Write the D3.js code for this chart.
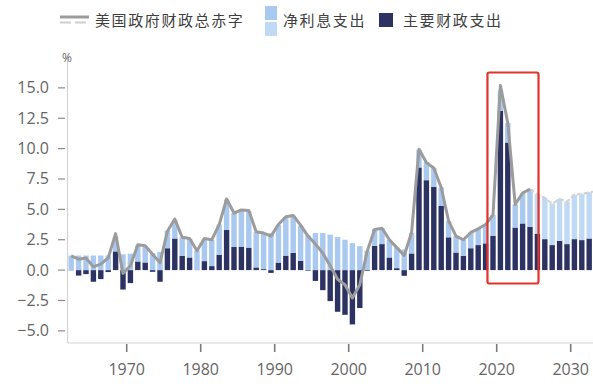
<!DOCTYPE html>
<html>
<head>
  <meta charset="utf-8">
  <script src="https://d3js.org/d3.v7.min.js"></script>
  <style>
    body{ margin:0; background:#fff; }
    .tick-label{ font-family:"Open Sans", "Noto Sans", sans-serif; font-size:16px; fill:#666; }
    .legend-text{ font-family:"Noto Sans CJK SC", sans-serif; font-size:15px; fill:#404040; letter-spacing:1.6px; }
  </style>
</head>
<body>
  <svg width='593' height='386' id='chart'></svg>
  <script>
    //data, % of GDP
    var years = d3.range(1962, 2035);

    var primary = [
      -0.02, -0.45, -0.33, -0.96, -0.74, -0.16, 1.54, -1.6, -1.07, 0.71,
      0.63, -0.14, -0.96, 1.8, 2.6, 1.18, 1.04, 0.03, 0.74, 0.33,
      1.26, 3.3, 1.9, 1.93, 1.85, 0.22, 0.08, -0.23, 0.62, 1.19,
      1.42, 0.77, -0.05, -0.89, -1.65, -2.55, -3.43, -3.68, -4.47, -3.12,
      -0.06, 2.0, 2.14, 1.04, 0.16, -0.47, 1.37, 8.45, 7.4, 6.86,
      5.3, 2.7, 1.45, 1.18, 1.8, 2.06, 2.2, 2.83, 13.1, 10.5,
      3.5, 3.84, 3.57, 3.0, 2.55, 2.06, 2.41, 2.14, 2.55, 2.47,
      2.6, 2.6, 2.7
    ];

    var interest = [
      1.2, 1.2, 1.2, 1.2, 1.2, 1.2, 1.25, 1.3, 1.35, 1.3,
      1.3, 1.4, 1.5, 1.45, 1.5, 1.5, 1.55, 1.6, 1.85, 2.15,
      2.5, 2.5, 2.8, 3.0, 3.0, 2.9, 2.95, 3.05, 3.1, 3.2,
      3.05, 2.9, 2.85, 3.05, 3.05, 2.92, 2.72, 2.5, 2.22, 1.97,
      1.6, 1.4, 1.3, 1.45, 1.7, 1.7, 1.7, 1.45, 1.5, 1.55,
      1.5, 1.35, 1.35, 1.3, 1.3, 1.35, 1.55, 1.7, 1.7, 1.6,
      1.9, 2.5, 3.1, 3.25, 3.4, 3.4, 3.45, 3.5, 3.65, 3.8,
      3.8, 3.9, 4.0
    ];

    //total deficit line, actual through 2024
    var totalYears = d3.range(1962, 2025);
    var total = [
      1.18, 0.9, 0.99, 0.27, 0.49, 1.0, 3.0, -0.27, 0.36, 2.08,
      2.0, 1.3, 0.6, 3.2, 4.2, 2.7, 2.6, 1.6, 2.6, 2.5,
      3.75, 5.85, 4.7, 4.95, 4.9, 3.15, 3.05, 2.8, 3.75, 4.4,
      4.5, 3.7, 2.8, 2.15, 1.4, 0.35, -0.75, -1.2, -2.3, -1.2,
      1.55, 3.35, 3.45, 2.5, 1.85, 1.2, 3.1, 9.95, 8.85, 8.4,
      6.8, 4.05, 2.8, 2.5, 3.1, 3.4, 3.75, 4.55, 15.2, 12.1,
      5.4, 6.35, 6.67
    ];

    //projection from 2024
    var projYears = d3.range(2024, 2035);
    var projTotal = [6.67, 6.25, 5.95, 5.46, 5.86, 5.64, 6.2, 6.27, 6.4, 6.5, 6.7];

    var yTicks = [-5, -2.5, 0, 2.5, 5, 7.5, 10, 12.5, 15];
    var xTicks = [1970, 1980, 1990, 2000, 2010, 2020, 2030];
    var legendNames = ['美国政府财政总赤字', '净利息支出', '主要财政支出'];

    var navy = '#2c3363';
    var lightBlue = '#a9c9f0';
    var lightBlueProj = '#c0daf6';
    var lineGray = '#9c9c9c';

    var svg = d3.select('svg#chart');

    var x = d3.scaleLinear().domain([1970, 2030]).range([126.7, 570.7]);
    var y = d3.scaleLinear().domain([-6, 17.5]).range([343, 57.5]);
    var barW = 5.4;
    var xLeft = x(1962);

    //stack primary and interest, negatives go below zero
    var rows = years.map(function(yr, i){
      return {year: yr, primary: primary[i], interest: interest[i]};
    });
    var series = d3.stack()
      .keys(['primary', 'interest'])
      .offset(d3.stackOffsetDiverging)(rows);

    function barColor(key, yr){
      if(key == 'primary') return navy;
      return yr >= 2025 ? lightBlueProj : lightBlue;
    }

    series.forEach(function(s){
      svg.append('g')
        .selectAll('rect')
        .data(s)
        .enter().append('rect')
        .attr('x', function(d){ return x(d.data.year + 0.5) - barW/2; })
        .attr('y', function(d){ return y(Math.max(d[0], d[1])); })
        .attr('width', barW)
        .attr('height', function(d){ return Math.abs(y(d[0]) - y(d[1])); })
        .attr('fill', function(d){ return barColor(s.key, d.data.year); });
    });

    //axes
    svg.append('line')
      .attr('x1', xLeft).attr('x2', 593)
      .attr('y1', y(-6)).attr('y2', y(-6))
      .style('stroke', '#d4d4d4').style('stroke-width', 1.2);

    svg.append('line')
      .attr('x1', xLeft).attr('x2', xLeft)
      .attr('y1', y(17.5)).attr('y2', y(-6))
      .style('stroke', '#d4d4d4').style('stroke-width', 1.2);

    var yAxis = svg.append('g');
    yAxis.selectAll('line')
      .data(yTicks)
      .enter().append('line')
      .attr('x1', 58).attr('x2', 65)
      .attr('y1', function(d){ return y(d); })
      .attr('y2', function(d){ return y(d); })
      .style('stroke', '#8c8c8c').style('stroke-width', 1.2);
    yAxis.selectAll('text')
      .data(yTicks)
      .enter().append('text')
      .attr('class', 'tick-label')
      .attr('x', 49)
      .attr('y', function(d){ return y(d) + 5.5; })
      .attr('text-anchor', 'end')
      .text(function(d){ return d3.format('.1f')(d); });

    var xAxis = svg.append('g');
    xAxis.selectAll('line')
      .data(xTicks)
      .enter().append('line')
      .attr('x1', function(d){ return x(d); })
      .attr('x2', function(d){ return x(d); })
      .attr('y1', 344).attr('y2', 352)
      .style('stroke', '#7a7a7a').style('stroke-width', 1.6);
    xAxis.selectAll('text')
      .data(xTicks)
      .enter().append('text')
      .attr('class', 'tick-label')
      .attr('x', function(d){ return x(d); })
      .attr('y', 375)
      .attr('text-anchor', 'middle')
      .text(function(d){ return d; });

    svg.append('text')
      .attr('x', 62).attr('y', 62)
      .style('font-family', '"Open Sans", sans-serif')
      .style('font-size', '12px')
      .style('fill', '#666')
      .text('%');

    //total deficit line
    var line = d3.line()
      .x(function(d){ return x(d[0] + 0.5); })
      .y(function(d){ return y(d[1]); });

    svg.append('path')
      .datum(d3.zip(projYears, projTotal))
      .attr('d', line)
      .style('fill', 'none')
      .style('stroke', '#d2d2d2')
      .style('stroke-width', 2)
      .style('stroke-dasharray', '5,2');

    svg.append('path')
      .datum(d3.zip(totalYears, total))
      .attr('d', line)
      .style('fill', 'none')
      .style('stroke', lineGray)
      .style('stroke-width', 3)
      .style('stroke-linejoin', 'round');

    //red highlight box round 2019-2024
    svg.append('rect')
      .attr('x', x(2018.75)).attr('y', 72.5)
      .attr('width', x(2025.65) - x(2018.75))
      .attr('height', 211)
      .attr('rx', 2)
      .style('fill', 'none')
      .style('stroke', '#e2342c')
      .style('stroke-width', 2.2);

    //legend
    var legend = svg.append('g');
    legend.append('line')
      .attr('x1', 60).attr('x2', 89).attr('y1', 17).attr('y2', 17)
      .style('stroke', lineGray).style('stroke-width', 3);
    legend.append('line')
      .attr('x1', 60).attr('x2', 89).attr('y1', 22.5).attr('y2', 22.5)
      .style('stroke', '#cfcfcf').style('stroke-width', 2)
      .style('stroke-dasharray', '11,4');
    legend.append('text')
      .attr('class', 'legend-text')
      .attr('x', 95).attr('y', 26)
      .text(legendNames[0]);

    legend.append('rect')
      .attr('x', 265).attr('y', 6).attr('width', 12).attr('height', 14)
      .attr('fill', lightBlue);
    legend.append('rect')
      .attr('x', 265).attr('y', 22).attr('width', 12).attr('height', 14)
      .attr('fill', lightBlueProj);
    legend.append('text')
      .attr('class', 'legend-text')
      .attr('x', 283).attr('y', 26)
      .text(legendNames[1]);

    legend.append('rect')
      .attr('x', 379).attr('y', 13).attr('width', 14).attr('height', 14)
      .attr('fill', navy);
    legend.append('text')
      .attr('class', 'legend-text')
      .attr('x', 403).attr('y', 26)
      .text(legendNames[2]);
  </script>
</body>
</html>
